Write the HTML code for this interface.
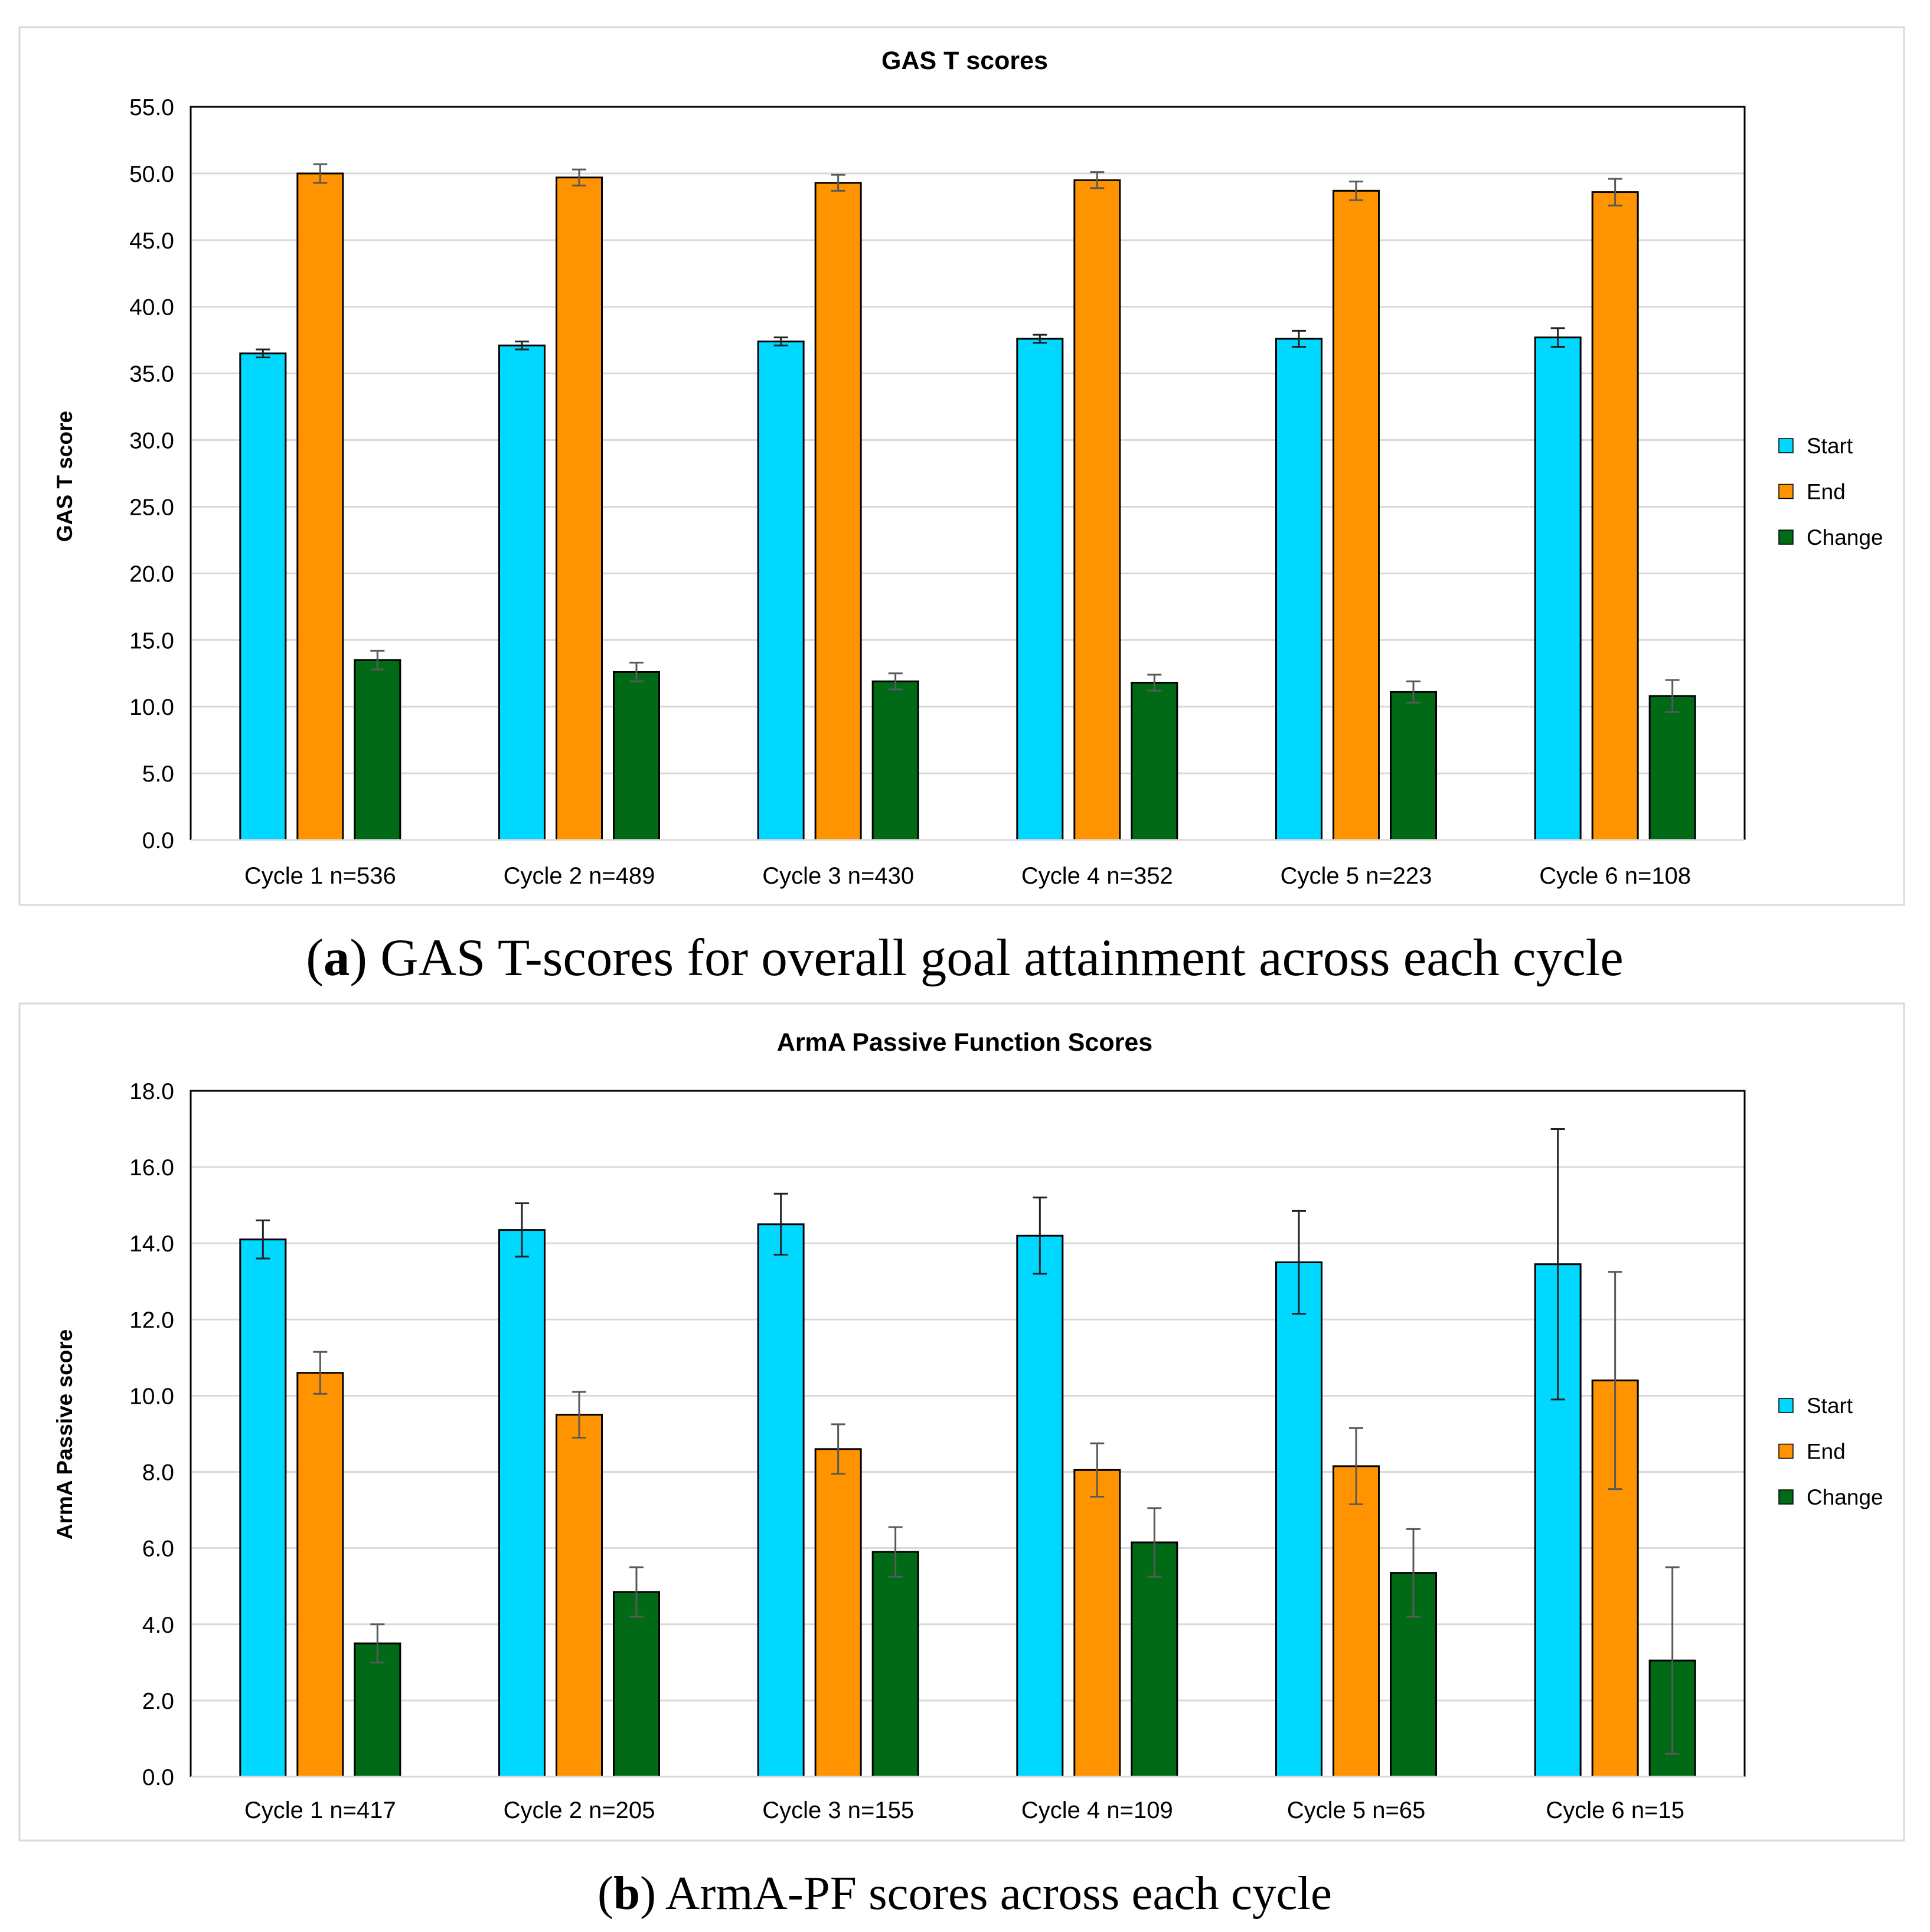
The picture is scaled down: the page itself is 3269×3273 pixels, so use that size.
<!DOCTYPE html>
<html><head><meta charset="utf-8"><style>
body{margin:0;background:#fff}
svg{display:block}
</style></head><body>
<svg id="svg" width="3269" height="3273" viewBox="0 0 3269 3273" xmlns="http://www.w3.org/2000/svg" font-family="'Liberation Sans', sans-serif">
<rect x="0" y="0" width="3269" height="3273" fill="#fff"/>
<rect x="33" y="46" width="3192" height="1487" fill="#fff" stroke="#d9d9d9" stroke-width="3"/>
<rect x="33" y="1700" width="3192" height="1418" fill="#fff" stroke="#d9d9d9" stroke-width="3"/>
<text x="1634" y="1652" text-anchor="middle" font-family="'Liberation Serif', serif" font-size="89">(<tspan font-weight="bold">a</tspan>) GAS T-scores for overall goal attainment across each cycle</text>
<text x="1634" y="3234" text-anchor="middle" font-family="'Liberation Serif', serif" font-size="81">(<tspan font-weight="bold">b</tspan>) ArmA-PF scores across each cycle</text>
<g id="ga"></g><g id="gb"></g>
</svg>
<script>
const categoriesA = ["Cycle 1 n=536","Cycle 2 n=489","Cycle 3 n=430","Cycle 4 n=352","Cycle 5 n=223","Cycle 6 n=108"];
const startA = [36.5,37.1,37.4,37.6,37.6,37.7];
const startErrA = [0.3,0.3,0.3,0.3,0.6,0.7];
const endA = [50.0,49.7,49.3,49.5,48.7,48.6];
const endErrA = [0.7,0.6,0.6,0.6,0.7,1.0];
const changeA = [13.5,12.6,11.9,11.8,11.1,10.8];
const changeErrA = [0.7,0.7,0.6,0.6,0.8,1.2];
const ticksA = ["0.0","5.0","10.0","15.0","20.0","25.0","30.0","35.0","40.0","45.0","50.0","55.0"];

const categoriesB = ["Cycle 1 n=417","Cycle 2 n=205","Cycle 3 n=155","Cycle 4 n=109","Cycle 5 n=65","Cycle 6 n=15"];
const startB = [14.1,14.35,14.5,14.2,13.5,13.45];
const startErrB = [0.5,0.7,0.8,1.0,1.35,3.55];
const endB = [10.6,9.5,8.6,8.05,8.15,10.4];
const endErrB = [0.55,0.6,0.65,0.7,1.0,2.85];
const changeB = [3.5,4.85,5.9,6.15,5.35,3.05];
const changeErrB = [0.5,0.65,0.65,0.9,1.15,2.45];
const ticksB = ["0.0","2.0","4.0","6.0","8.0","10.0","12.0","14.0","16.0","18.0"];

const NS="http://www.w3.org/2000/svg";
function mk(parent,tag,attrs,text){const e=document.createElementNS(NS,tag);for(const k in attrs)e.setAttribute(k,attrs[k]);if(text!==undefined)e.textContent=text;parent.appendChild(e);return e;}

function drawChart(g, cfg){
  const {L,R,T,B,max,ticks,cats,series,errs,title,ytitle,titleY,catY,legY,yTitleY}=cfg;
  const y=v=>B-(v/max)*(B-T);
  const gw=(R-L)/cats.length;
  const x=i=>L+gw*(i+0.5);
  ticks.forEach(t=>{
    const v=parseFloat(t);
    if(v>0&&v<max){const l=mk(g,'line',{x1:L,x2:R,y1:y(v),y2:y(v),stroke:'#d9d9d9','stroke-width':3});
      
      }
    const tx=mk(g,'text',{x:L-28,y:y(v)+14,'text-anchor':'end','font-size':39,fill:'#000'},t);
    
    
  });
  const colors=['#00d8ff','#ff9400','#006a17'];
  const errCol=['#222','#595959','#595959'];
  const names=['Start','End','Change'];
  const bw=77, pitch=97;
  series.forEach((s,si)=>{
    s.forEach((v,i)=>{
      const cx=x(i)+(si-1)*pitch;
      const r=mk(g,'rect',{x:cx-bw/2,y:y(v),width:bw,height:B-y(v),fill:colors[si],stroke:'#000','stroke-width':3});
      
      
      const e=errs[si][i];
      const eg=mk(g,'path',{d:`M${cx},${y(v+e)}V${y(v-e)}M${cx-12},${y(v+e)}H${cx+12}M${cx-12},${y(v-e)}H${cx+12}`,stroke:errCol[si],'stroke-width':3,fill:'none'});
      
      
    });
  });
  const fr=mk(g,'path',{d:`M${L},${B}V${T}H${R}V${B}`,fill:'none',stroke:'#000','stroke-width':3});
  
  
  const ax=mk(g,'line',{x1:L,x2:R,y1:B,y2:B,stroke:'#d9d9d9','stroke-width':3});
  
  
  cats.forEach((c,i)=>{
    const t=mk(g,'text',{x:x(i),y:catY,'text-anchor':'middle','font-size':40},c);
    
    
  });
  const tt=mk(g,'text',{x:1634,y:titleY,'text-anchor':'middle','font-size':43,'font-weight':'bold'},title);
  
  
  const yt=mk(g,'text',{x:0,y:0,'text-anchor':'middle','font-size':37,'font-weight':'bold',transform:`translate(122,${yTitleY}) rotate(-90)`},ytitle);
  
  
  names.forEach((n,k)=>{
    const ly=legY+k*77.5;
    const sq=mk(g,'rect',{x:3013,y:ly-12,width:24,height:24,fill:colors[k],stroke:'#000','stroke-width':1.5});
    
    
    const lt=mk(g,'text',{x:3060,y:ly+13,'font-size':37},n);
    
    
  });
}
drawChart(document.getElementById('ga'),{L:323,R:2955,T:181,B:1423,max:55,ticks:ticksA,cats:categoriesA,
  series:[startA,endA,changeA],errs:[startErrA,endErrA,changeErrA],title:'GAS T scores',ytitle:'GAS T score',
  titleY:117,catY:1497,legY:755,yTitleY:807});
drawChart(document.getElementById('gb'),{L:323,R:2955,T:1848,B:3010,max:18,ticks:ticksB,cats:categoriesB,
  series:[startB,endB,changeB],errs:[startErrB,endErrB,changeErrB],title:'ArmA Passive Function Scores',ytitle:'ArmA Passive score',
  titleY:1780,catY:3080,legY:2381,yTitleY:2430});
</script>
</body></html>
